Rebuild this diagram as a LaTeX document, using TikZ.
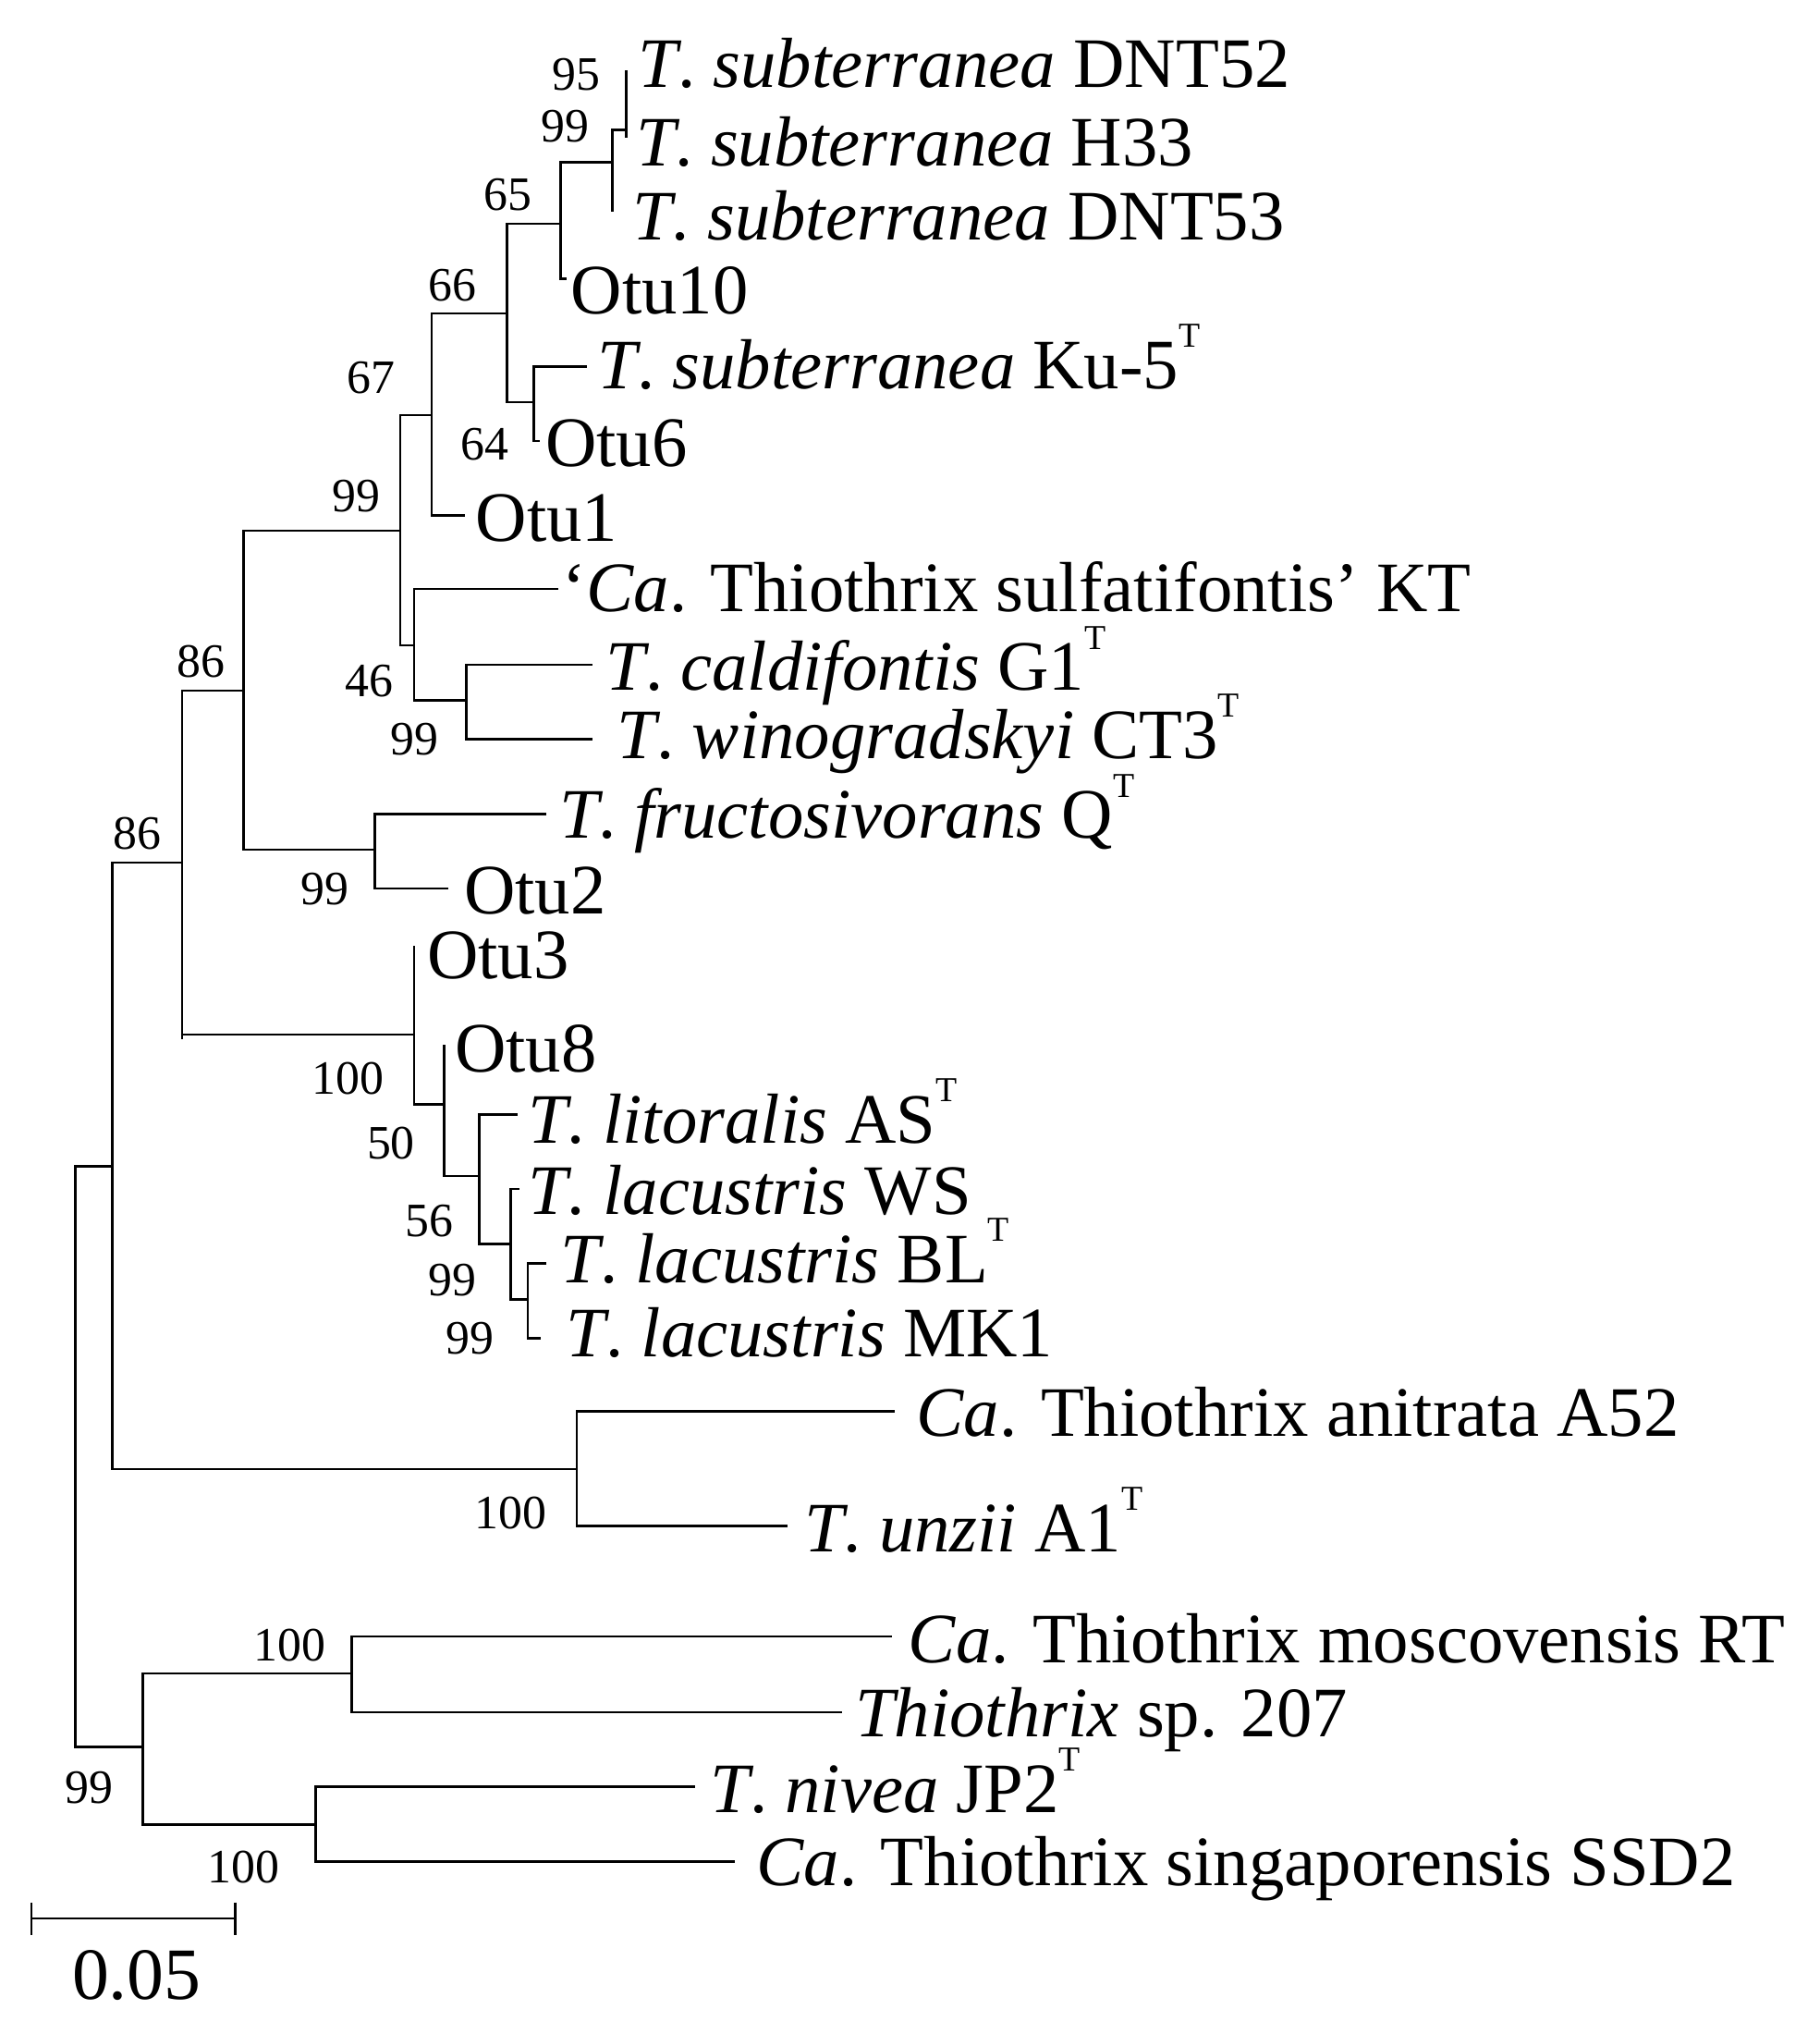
\documentclass[tikz,border=0pt]{standalone}
\usepackage{fontspec}
\setmainfont{Liberation Serif}
\newcommand{\supT}{\smash{\raisebox{0.58em}{\fontsize{38}{38}\selectfont T}}}
\begin{document}
\begin{tikzpicture}[x=1.2551bp,y=-0.7015bp,
  br/.style={line width=2.6bp,line cap=rect},
  leaf/.style={anchor=base west,yshift=-24bp,inner sep=0pt,font=\fontsize{77}{80}\selectfont},
  bs/.style={anchor=center,inner sep=0pt,font=\fontsize{52}{56}\selectfont}]
\useasboundingbox[fill=white] (0,0) rectangle (1568,3136);
% ---- upper part (zoom frame 1)
\draw[br] (540,110)--(540,210) (528,200)--(540,200) (528,200)--(528,325);
\draw[br] (483,250)--(528,250) (483,250)--(483,430)--(487,430);
\draw[br] (437,345)--(483,345) (437,345)--(437,620)--(460,620);
\draw[br] (460,565)--(460,680)--(464,680) (460,565)--(505,565);
\draw[br] (372,483)--(437,483) (372,483)--(372,795)--(400,795);
\draw[br] (345,640)--(372,640) (345,640)--(345,995)--(357,995) (210,818)--(345,818);
\draw[br] (357,908)--(357,1080)--(402,1080) (357,908)--(480,908);
\draw[br] (402,1025)--(402,1140)--(510,1140) (402,1025)--(510,1025);
\draw[br] (210,818)--(210,1310)--(323,1310) (157,1065)--(210,1065);
\draw[br] (323,1255)--(323,1370)--(385,1370) (323,1255)--(470,1255);
\draw[br] (97,1330)--(157,1330) (157,1065)--(157,1600) (357,1460)--(357,1700) (97,1330)--(97,1800);
\node[leaf] (l1) at (550,100) {\textit{T}. \textit{subterranea} DNT52};
\node[leaf] (l2) at (548,222) {\textit{T}. \textit{subterranea} H33};
\node[leaf] (l3) at (545,335) {\textit{T}. \textit{subterranea} DNT53};
\node[leaf] (l4) at (492,450) {Otu10};
\node[leaf] (l5) at (515,565) {\textit{T}. \textit{subterranea} Ku-5\supT};
\node[leaf] (l6) at (470,685) {Otu6};
\node[leaf] (l7) at (410,800) {Otu1};
\node[leaf] (l8) at (485,908) {`\textit{Ca}. Thiothrix sulfatifontis' KT};
\node[leaf] (l9) at (522,1030) {\textit{T}. \textit{caldifontis} G1\supT};
\node[leaf] (l10) at (532,1135) {\textit{T}. \textit{winogradskyi} CT3\supT};
\node[leaf] (l11) at (482,1258) {\textit{T}. \textit{fructosivorans} Q\supT};
\node[leaf] (l12) at (400,1375) {Otu2};
\node[leaf] (l13) at (368,1475) {Otu3};
\node[bs] (b1) at (497,115) {95};
\node[bs] (b2) at (487,195) {99};
\node[bs] (b3) at (438,300) {65};
\node[bs] (b4) at (390,440) {66};
\node[bs] (b5) at (320,583) {67};
\node[bs] (b6) at (418,685) {64};
\node[bs] (b7) at (307,765) {99};
\node[bs] (b8) at (173,1020) {86};
\node[bs] (b9) at (318,1050) {46};
\node[bs] (b10) at (357,1140) {99};
\node[bs] (b11) at (118,1285) {86};
\node[bs] (b12) at (280,1370) {99};
% ---- lower part (zoom frame 2)
\begin{scope}[yshift=-1100bp]
\draw[br] (157,-100)--(157,27)--(357,27) (357,-100)--(357,135)--(383,135);
\draw[br] (383,45)--(383,245)--(413,245) (413,150)--(413,350)--(440,350) (413,150)--(445,150);
\draw[br] (440,265)--(440,435)--(455,435) (440,265)--(447,265);
\draw[br] (455,380)--(455,495)--(465,495) (455,380)--(470,380);
\draw[br] (97,-100)--(97,697)--(497,697) (497,608)--(497,785)--(678,785) (497,608)--(770,608);
\draw[br] (65,230)--(97,230) (65,230)--(65,1125)--(123,1125);
\draw[br] (123,1012)--(123,1245)--(272,1245) (123,1012)--(303,1012);
\draw[br] (303,955)--(303,1072)--(725,1072) (303,955)--(768,955);
\draw[br] (272,1187)--(272,1302)--(632,1302) (272,1187)--(598,1187);
\draw[br,line cap=butt] (27,1390)--(203,1390) (27,1365)--(27,1415) (203,1365)--(203,1415);
\node[leaf] (m1) at (392,50) {Otu8};
\node[leaf] (m2) at (455,160) {\textit{T}. \textit{litoralis} AS\supT};
\node[leaf] (m3) at (455,270) {\textit{T}. \textit{lacustris} WS};
\node[leaf] (m4) at (483,375) {\textit{T}. \textit{lacustris} BL\supT};
\node[leaf] (m5) at (488,490) {\textit{T}. \textit{lacustris} MK1};
\node[leaf] (m6) at (790,612) {\textit{Ca}. Thiothrix anitrata A52};
\node[leaf] (m7) at (693,790) {\textit{T}. \textit{unzii} A1\supT};
\node[leaf] (m8) at (783,962) {\textit{Ca}. Thiothrix moscovensis RT};
\node[leaf] (m9) at (737,1075) {\textit{Thiothrix} sp. 207};
\node[leaf] (m10) at (612,1192) {\textit{T}. \textit{nivea} JP2\supT};
\node[leaf] (m11) at (652,1305) {\textit{Ca}. Thiothrix singaporensis SSD2};
\node[leaf,font=\fontsize{80}{84}\selectfont] (sc) at (62,1480) {0.05};
\node[bs] (c1) at (300,95) {100};
\node[bs] (c2) at (337,195) {50};
\node[bs] (c3) at (370,315) {56};
\node[bs] (c4) at (390,405) {99};
\node[bs] (c5) at (405,495) {99};
\node[bs] (c6) at (440,765) {100};
\node[bs] (c7) at (250,968) {100};
\node[bs] (c8) at (77,1188) {99};
\node[bs] (c9) at (210,1310) {100};
\end{scope}
\end{tikzpicture}
\end{document}
